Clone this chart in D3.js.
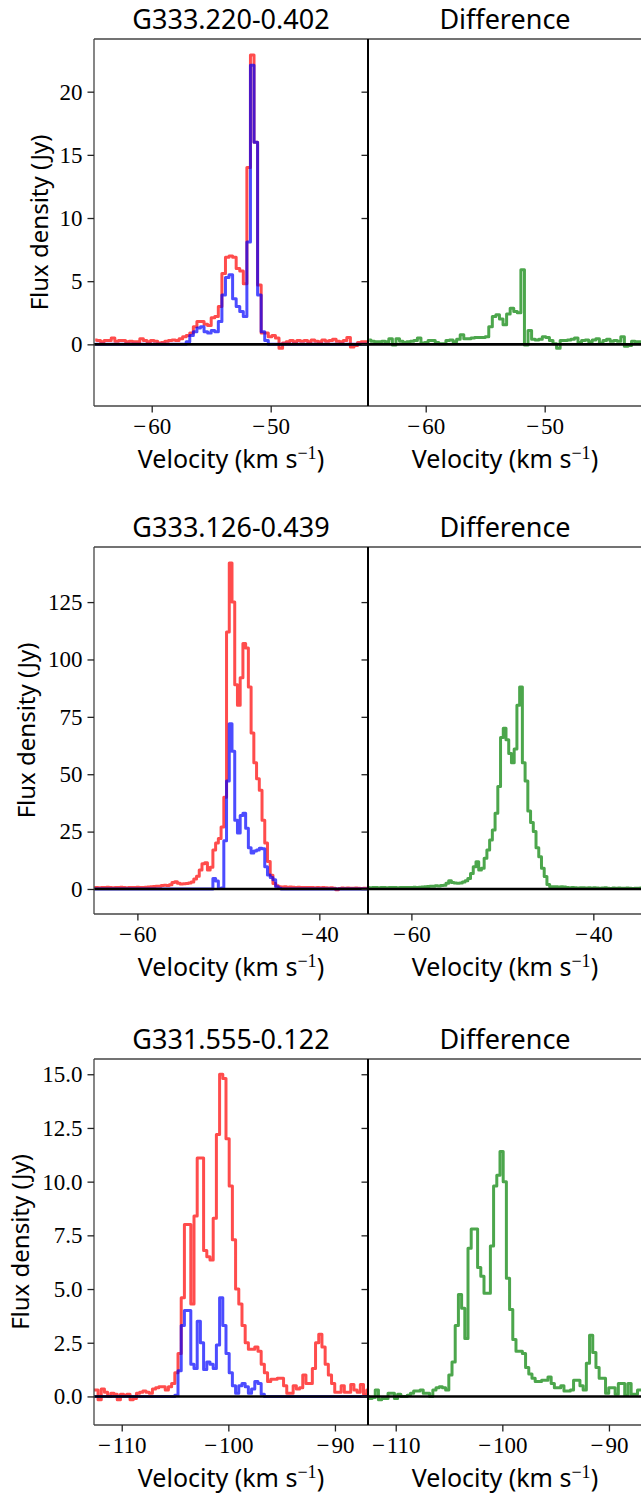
<!DOCTYPE html>
<html>
<head>
<meta charset="utf-8">
<script src="https://cdn.jsdelivr.net/npm/d3@7"></script>
<style>
  body { margin: 0; background: #fff; }
</style>
</head>
<body>
<div id="chart"></div>
<script>
// channel grid (km/s) for each source
const chanWidth = 0.3;
const r1Start = -64.75;
const r2Start = -64.75;
const r3Start = -112.67;

const titles = ["G333.220-0.402", "G333.126-0.439", "G331.555-0.122"];

// G333.220-0.402
const r1Red = [0.35, 0.3, 0.2, 0.3, 0.3, 0.5, 0.25, 0.3, 0.3, 0.2,
  0.25, 0.2, 0.2, 0.45, 0.3, 0.2, 0.3, 0.25, 0.1, 0.15,
  0.25, 0.3, 0.35, 0.3, 0.45, 0.6, 0.7, 0.9, 1.4, 1.8,
  1.8, 1.6, 1.5, 2.1, 2.2, 3.0, 5.6, 6.9, 7.0, 6.9,
  6.0, 5.8, 4.8, 14.0, 22.9, 16.0, 4.7, 0.9, 0.9, 0.6,
  0.7, 0.5, -0.3, 0.1, 0.2, 0.3, 0.2, 0.3, 0.25, 0.3,
  0.2, 0.35, 0.25, 0.2, 0.35, 0.25, 0.3, 0.4, 0.25, 0.2,
  0.3, 0.55, -0.2, -0.1, 0.15, 0.2, 0.2, 0.15];
const r1Blue = [0, 0, 0, 0, 0, 0, 0, 0, 0, 0,
  0, 0, 0, 0, 0, 0, 0, 0, 0, 0,
  0, 0, 0, 0, 0, 0, 0.2, 0.7, 1.0, 1.3,
  1.4, 1.0, 0.9, 1.1, 1.0, 1.8, 3.9, 5.3, 5.5, 3.6,
  3.0, 2.6, 2.2, 8.1, 22.1, 16.0, 3.9, 1.0, 0.3, 0,
  0, 0, 0, 0, 0, 0, 0, 0, 0, 0,
  0, 0, 0, 0, 0, 0, 0, 0, 0, 0,
  0, 0, 0, 0, 0, 0, 0, 0];
const r1Diff = [0.35, 0.25, 0.2, 0.2, 0.25, 0.2, 0.45, -0.05, 0.45, 0.25,
  0.15, 0.2, 0.25, 0.3, 0.5, 0.1, 0.15, 0.3, 0.3, 0.15,
  0.05, 0.05, 0.3, 0.35, 0.2, 0.4, 0.75, 0.45, 0.45, 0.5,
  0.55, 0.55, 0.55, 0.6, 1.4, 2.2, 2.35, 2.0, 1.55, 2.4,
  2.85, 2.6, 2.5, 5.9, -0.05, 1.1, 0.4, 0.35, 0.4, 0.6,
  0.55, 0.3, 0.05, -0.3, 0.3, 0.3, 0.35, 0.4, 0.5, 0.15,
  0.3, 0.35, 0.2, 0.35, 0.45, 0.1, 0.3, 0.4, 0.25, 0.3,
  0.25, 0.6, -0.15, -0.1, 0.25, 0.2, 0.2, 0.2];

// G333.126-0.439
const r2Red = [0.6, 0.7, 0.5, 0.6, 0.7, 0.8, 0.6, 0.5, 0.7, 0.6,
  0.8, 0.6, 0.5, 0.7, 0.6, 0.7, 0.8, 0.6, 0.7, 0.8,
  0.9, 1.0, 1.1, 1.2, 1.2, 1.5, 1.6, 1.5, 1.8, 2.8,
  3.2, 2.5, 2.2, 2.3, 2.4, 2.6, 3.0, 4.4, 5.5, 8.3,
  11.0, 11.4, 8.3, 9.5, 17, 20, 22, 27, 40, 112,
  142, 125, 89, 80, 92, 107, 105, 88, 68, 55,
  48, 43, 30, 20, 12, 6, 2.4, 1.4, 1.0, 0.9,
  1.0, 0.8, 0.9, 0.8, 0.7, 0.8, 0.7, 0.6, 0.7, 0.6,
  0.7, 0.5, 0.6, 0.5, 0.6, 0.5, 0.4, 0.5, 0.3, -0.3,
  0.2, 0.4, 0.3, 0.4, 0.3, 0.3, 0.4, 0.3, 0.2, 0.3,
  0.3, 0.3];
const r2Blue = [0, 0, 0, 0, 0, 0, 0, 0, 0, 0,
  0, 0, 0, 0, 0, 0, 0, 0, 0, 0,
  0, 0, 0, 0, 0, 0, 0, 0, 0, 0,
  0, 0, 0, 0, 0, 0, 0, 0, 0, 0,
  0, 0, 0, 0, 4.6, 3.5, 0.2, 0.4, 21, 47,
  72, 60, 30, 24.4, 32, 33, 26.5, 18, 15.7, 16.5,
  17, 17.8, 17.5, 9.7, 6.1, 5, 4, 1, 0.3, 0,
  0, 0, 0, 0, 0, 0, 0, 0, 0, 0,
  0, 0, 0, 0, 0, 0, 0, 0, 0, 0,
  0, 0, 0, 0, 0, 0, 0, 0, 0, 0,
  0, 0];
const r2Diff = [0.6, 0.5, 0.7, 0.6, 0.5, 0.6, 0.7, 0.5, 0.6, 0.7,
  0.6, 0.5, 0.6, 0.7, 0.6, 0.7, 0.6, 0.8, 0.7, 0.8,
  0.9, 1.0, 1.1, 1.2, 1.2, 1.4, 1.3, 1.5, 1.6, 2.5,
  3.6, 2.8, 2.6, 2.5, 2.6, 3.0, 3.6, 4.6, 6.8, 9.7,
  11.9, 8.3, 9.0, 13.4, 17, 21.3, 25.7, 33, 44.6, 66,
  70, 65, 59, 55, 61, 80, 88, 55, 47, 34,
  29, 25, 18, 14, 9, 5.4, 2.0, 1.0, 1.0, 1.0,
  0.9, 1.0, 0.9, 0.6, 0.5, 0.6, 0.5, 0.4, 0.5, 0.5,
  0.4, 0.5, 0.4, 0.5, 0.4, 0.3, 0.4, 0.5, 0.3, 0.2,
  0.4, 0.3, 0.4, 0.3, 0.3, 0.4, 0.3, 0.2, 0.3, 0.3,
  0.4, 0.3];

// G331.555-0.122
const r3Red = [0.3, 0.3, -0.15, 0.35, 0.2, 0.0, 0.15, 0.1, -0.15, 0.1,
  0.05, 0.1, -0.15, -0.1, 0.15, 0.2, 0.25, 0.2, 0.15, 0.35,
  0.4, 0.45, 0.45, 0.3, 0.45, 0.6, 1.1, 2.0, 4.6, 8.0,
  8.0, 4.3, 8.4, 11.1, 11.1, 6.8, 6.5, 6.35, 8.3, 12.2,
  15.0, 14.8, 12.0, 9.8, 7.3, 5.0, 4.3, 3.3, 2.5, 2.2,
  2.2, 2.3, 2.1, 1.5, 1.1, 0.7, 0.8, 0.8, 0.85, 0.85,
  0.5, 0.15, 0.15, 0.5, 0.35, 0.4, 1.0, 0.6, 0.6, 1.3,
  2.5, 2.9, 2.3, 1.5, 1.0, 0.6, 0.2, 0.2, 0.5, 0.2,
  0.2, 0.55, 0.3, 0.2, 0.55, 0.1, 0.3];
const r3Blue = [0, 0, 0, 0, 0, 0, 0, 0, 0, 0,
  0, 0, 0, 0, 0, 0, 0, 0, 0, 0,
  0, 0, 0, 0, 0, 0, 0.05, 1.2, 3.3, 4.0,
  4.0, 1.5, 1.3, 3.5, 2.5, 1.25, 1.6, 1.5, 1.3, 2.4,
  4.6, 3.3, 2.0, 1.1, 0.5, 0.15, 0.5, 0.6, 0.45, 0.15,
  0.35, 0.7, 0.6, 0.1, 0, 0, 0, 0, 0, 0,
  0, 0, 0, 0, 0, 0, 0, 0, 0, 0,
  0, 0, 0, 0, 0, 0, 0, 0, 0, 0,
  0, 0, 0, 0, 0, 0, 0];
const r3Diff = [0.0, -0.1, -0.05, 0.3, -0.15, -0.1, -0.1, 0.15, 0.15, -0.1,
  0.1, 0.0, 0.0, 0.05, 0.15, 0.25, 0.25, 0.3, 0.15, 0.15,
  0.0, 0.3, 0.4, 0.45, 0.4, 0.3, 1.0, 1.6, 3.3, 4.75,
  4.1, 2.7, 6.9, 7.8, 7.8, 6.0, 5.6, 4.8, 4.8, 7.0,
  9.8, 10.3, 11.4, 10.0, 5.5, 4.05, 2.65, 2.1, 2.1, 2.0,
  1.35, 1.05, 0.85, 0.7, 0.7, 0.75, 0.75, 0.9, 0.6, 0.4,
  0.4, 0.5, 0.25, 0.25, 0.3, 0.75, 0.75, 0.5, 0.3, 1.55,
  2.85, 2.05, 1.35, 0.85, 0.85, 0.15, 0.4, 0.4, 0.1, 0.6,
  0.6, 0.05, 0.6, 0.1, 0.1, 0.3, 0.3];

// axis ranges and ticks
const r1XDomain = [-64.85, -41.82], r1YDomain = [-4.88, 24.17];
const r2XDomain = [-64.77, -34.65], r2YDomain = [-10.9, 149];
const r3XDomain = [-112.6, -86.9], r3YDomain = [-1.33, 15.71];
const r1XTicks = [-60, -50], r1YTicks = [0, 5, 10, 15, 20];
const r2XTicks = [-60, -40], r2YTicks = [0, 25, 50, 75, 100, 125];
const r3XTicks = [-110, -100, -90], r3YTicks = [0, 2.5, 5, 7.5, 10, 12.5, 15];

const rows = [
  {title: titles[0], start: r1Start, red: r1Red, blue: r1Blue, diff: r1Diff,
   xDomain: r1XDomain, yDomain: r1YDomain, xTicks: r1XTicks, yTicks: r1YTicks, yFmt: d3.format("d")},
  {title: titles[1], start: r2Start, red: r2Red, blue: r2Blue, diff: r2Diff,
   xDomain: r2XDomain, yDomain: r2YDomain, xTicks: r2XTicks, yTicks: r2YTicks, yFmt: d3.format("d")},
  {title: titles[2], start: r3Start, red: r3Red, blue: r3Blue, diff: r3Diff,
   xDomain: r3XDomain, yDomain: r3YDomain, xTicks: r3XTicks, yTicks: r3YTicks, yFmt: d3.format(".1f")}
];

// layout
const width = 641, height = 1494;
const colLeft = 94, colMid = 368, colRight = 642;
const rowTops = [39, 547, 1059];
const rowBottoms = [406, 914, 1425];
const yLabelX = [48, 35, 29];
const sansFont = "'Noto Sans', 'Open Sans', sans-serif";
const serifFont = "'Liberation Serif', 'DejaVu Serif', serif";

// latex-ish minus: a bit of air after the sign
const xFmt = d => (d < 0 ? "\u2212\u200a" : "") + Math.abs(d);

const svg = d3.select("#chart").append("svg")
    .attr("width", width)
    .attr("height", height);

const defs = svg.append("defs");

function drawAxes(g, x, y, x0, bottom, row, showYLabels) {
    const xAxis = g.append("g")
        .attr("transform", "translate(0," + bottom + ")")
        .call(d3.axisBottom(x).tickValues(row.xTicks).tickSize(6.5).tickPadding(5).tickFormat(xFmt));
    const yAxis = g.append("g")
        .attr("transform", "translate(" + x0 + ",0)")
        .call(d3.axisLeft(y).tickValues(row.yTicks).tickSize(6.5).tickPadding(5)
            .tickFormat(showYLabels ? row.yFmt : ""));
    [xAxis, yAxis].forEach(a => {
        a.select(".domain").remove();
        a.selectAll(".tick line").attr("stroke", "#222").attr("stroke-width", 1.3);
        a.selectAll(".tick text")
            .style("font-family", serifFont)
            .style("font-size", "23px")
            .attr("fill", "#000");
    });
}

rows.forEach((row, k) => {
    const top = rowTops[k], bottom = rowBottoms[k];
    const vel = row.red.map((d, i) => row.start + i * chanWidth);
    const y = d3.scaleLinear().domain(row.yDomain).range([bottom, top]);

    const panels = [
        {x0: colLeft, x1: colMid, title: row.title, series: [[row.red, "#ff0000"], [row.blue, "#0000ff"]], left: true},
        {x0: colMid, x1: colRight, title: "Difference", series: [[row.diff, "#008000"]], left: false}
    ];

    panels.forEach((p, j) => {
        const x = d3.scaleLinear().domain(row.xDomain).range([p.x0, p.x1]);
        const clipId = "clip" + k + "_" + j;
        defs.append("clipPath").attr("id", clipId)
            .append("rect")
            .attr("x", p.x0).attr("y", top)
            .attr("width", p.x1 - p.x0).attr("height", bottom - top);

        const g = svg.append("g");

        const line = d3.line()
            .x((d, i) => x(vel[i]))
            .y(d => y(d))
            .curve(d3.curveStep);

        p.series.forEach(([vals, col]) => {
            g.append("path")
                .datum(vals)
                .attr("d", line)
                .attr("fill", "none")
                .attr("stroke", col)
                .attr("stroke-opacity", 0.7)
                .attr("stroke-width", 3)
                .attr("stroke-linejoin", "round")
                .attr("clip-path", "url(#" + clipId + ")");
        });

        // zero level
        g.append("line")
            .attr("x1", p.x0).attr("x2", p.x1)
            .attr("y1", y(0)).attr("y2", y(0))
            .attr("stroke", "#000")
            .attr("stroke-width", 2.6);

        // spines
        g.append("line").attr("x1", p.x0).attr("x2", p.x1).attr("y1", top).attr("y2", top)
            .attr("stroke", "#444").attr("stroke-width", 1.3);
        g.append("line").attr("x1", p.x0).attr("x2", p.x1).attr("y1", bottom).attr("y2", bottom)
            .attr("stroke", "#444").attr("stroke-width", 1.3);
        if (p.left) {
            g.append("line").attr("x1", p.x0).attr("x2", p.x0).attr("y1", top).attr("y2", bottom)
                .attr("stroke", "#444").attr("stroke-width", 1.3);
        }

        drawAxes(g, x, y, p.x0, bottom, row, p.left);

        // title
        g.append("text")
            .attr("x", (p.x0 + p.x1) / 2)
            .attr("y", top - 10)
            .attr("text-anchor", "middle")
            .style("font-family", sansFont)
            .style("font-size", "27px")
            .text(p.title);

        // x label with superscript
        const xl = g.append("text")
            .attr("x", (p.x0 + p.x1) / 2)
            .attr("y", bottom + 62)
            .attr("text-anchor", "middle")
            .style("font-family", sansFont)
            .style("font-size", "25px");
        xl.append("tspan").text("Velocity (km s");
        xl.append("tspan").attr("dy", -9).style("font-family", serifFont).style("font-size", "18px").text("\u22121");
        xl.append("tspan").attr("dy", 9).text(")");

        if (p.left) {
            g.append("text")
                .attr("transform", "translate(" + yLabelX[k] + "," + ((top + bottom) / 2) + ") rotate(-90)")
                .attr("text-anchor", "middle")
                .style("font-family", sansFont)
                .style("font-size", "24px")
                .text("Flux density (Jy)");
        }
    });

    // shared edge between the two panels
    svg.append("line")
        .attr("x1", colMid).attr("x2", colMid)
        .attr("y1", top).attr("y2", bottom)
        .attr("stroke", "#000").attr("stroke-width", 2);
});
</script>
</body>
</html>
